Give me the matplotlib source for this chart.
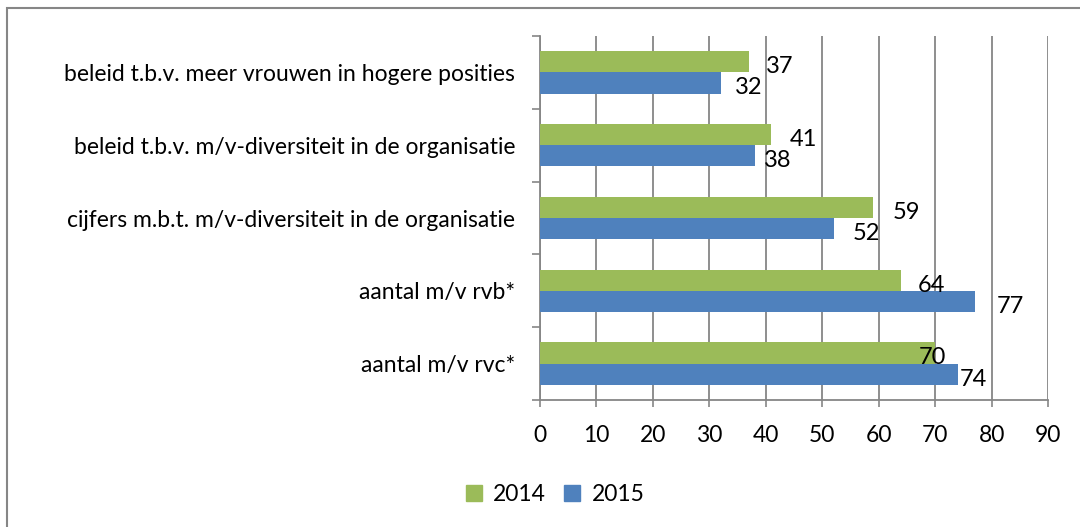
#!/usr/bin/env python3
"""Horizontal grouped bars: m/v-diversiteit 2014 vs 2015."""

import matplotlib

matplotlib.use("Agg")
import matplotlib.pyplot as plt
import numpy as np
from matplotlib.patches import Rectangle

CATEGORIES = [
    "beleid t.b.v. meer vrouwen in hogere posities",
    "beleid t.b.v. m/v-diversiteit in de organisatie",
    "cijfers m.b.t. m/v-diversiteit in de organisatie",
    "aantal m/v rvb*",
    "aantal m/v rvc*",
]
VALUES_2014 = [37, 41, 59, 64, 70]
VALUES_2015 = [32, 38, 52, 77, 74]
SERIES = ["2014", "2015"]
X_TICKS = list(range(0, 100, 10))

GREEN = "#9BBB59"
BLUE = "#4F81BD"
GRID = "#868686"
FS = 16.5

# label nudges (points) to mimic the hand-placed data labels
DX_2014 = [12, 13, 14, 12, -12]
DX_2015 = [10, 7, 14, 16, 1.5]

plt.rcParams["font.family"] = ["Lato", "DejaVu Sans"]

fig = plt.figure(figsize=(10.8, 5.27), dpi=100)
ax = fig.add_axes([0.5, 0.241, 0.4704, 0.6906])

n = len(CATEGORIES)
y = np.arange(n)[::-1].astype(float)
h = 0.29

bars14 = ax.barh(y + h / 2, VALUES_2014, height=h, color=GREEN, zorder=3)
bars15 = ax.barh(y - h / 2, VALUES_2015, height=h, color=BLUE, zorder=3)

for bars, vals, dxs in ((bars14, VALUES_2014, DX_2014), (bars15, VALUES_2015, DX_2015)):
    for bar, v, dx in zip(bars, vals, dxs):
        ax.annotate(
            f"{v}",
            (v, bar.get_y() + bar.get_height() / 2),
            xytext=(dx, -3.5),
            textcoords="offset points",
            ha="left",
            va="center",
            fontsize=FS + 0.5,
            color="#000000",
        )

ax.set_xlim(0, 90)
ax.set_ylim(-0.5, n - 0.5)
ax.set_xticks(X_TICKS)
ax.tick_params(axis="x", length=5, width=1.2, color=GRID, pad=13, labelsize=FS)

ax.set_yticks(y)
ax.set_yticklabels(CATEGORIES, fontsize=FS)
ax.tick_params(axis="y", length=0, pad=18)
ax.set_yticks(np.arange(-0.5, n, 1.0), minor=True)
ax.tick_params(axis="y", which="minor", length=6, width=1.2, color=GRID)

ax.grid(True, axis="x", color=GRID, linewidth=1.3, zorder=0)
ax.set_axisbelow(True)
for side in ("top", "right"):
    ax.spines[side].set_visible(False)
for side in ("left", "bottom"):
    ax.spines[side].set_color(GRID)
    ax.spines[side].set_linewidth(1.3)

handles = [Rectangle((0, 0), 1, 1, color=GREEN), Rectangle((0, 0), 1, 1, color=BLUE)]
fig.legend(
    handles,
    SERIES,
    loc="center",
    bbox_to_anchor=(0.514, 0.061),
    ncol=2,
    frameon=False,
    fontsize=FS,
    handlelength=0.7,
    handleheight=0.7,
    handletextpad=0.5,
    columnspacing=0.8,
)

# chart area border (only top and left visible in the crop)
fig.patches.append(
    Rectangle((7 / 1080, -0.1), 1.2, 1 - 8 / 527 + 0.1, transform=fig.transFigure,
              fill=False, edgecolor="#868686", linewidth=1.5)
)

fig.savefig("out.png", dpi=100)
